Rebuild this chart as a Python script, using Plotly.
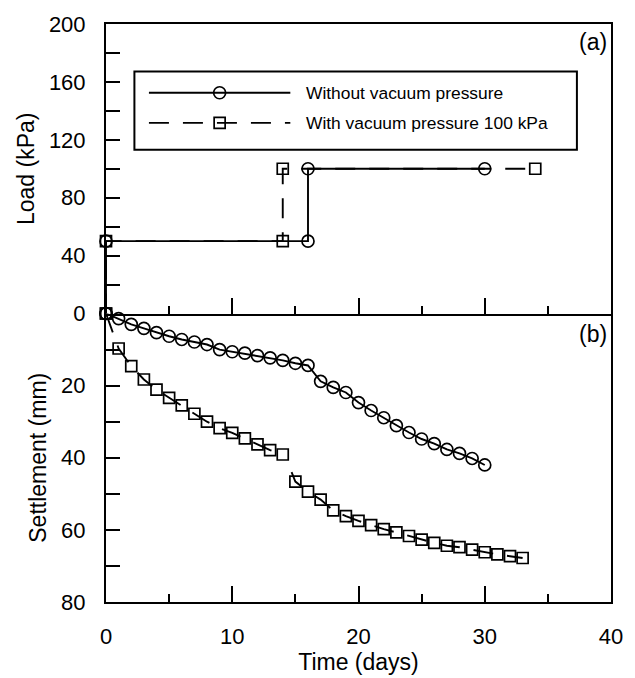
import plotly.graph_objects as go

# ---------------- data ----------------
# (a) load history
load_t_without = [0, 0, 16, 16, 30]
load_without = [0, 50, 50, 100, 100]
load_t_with = [0, 0, 14, 14, 34]
load_with = [0, 50, 50, 100, 100]

# (b) settlement
days_without = list(range(0, 31))
settle_without = [0, 1.4, 3.0, 4.1, 5.3, 6.3, 7.2, 7.9, 8.6, 10.0, 10.6,
                  11.0, 11.7, 12.3, 13.0, 13.8, 14.4, 18.8, 20.5, 21.9, 24.7,
                  26.9, 28.9, 31.1, 33.0, 34.8, 36.1, 37.7, 38.8, 40.2, 42.0]

days_with = list(range(0, 34))
settle_with = [0, 9.7, 14.6, 18.3, 21.1, 23.4, 25.5, 27.8, 30.0, 31.8, 33.1,
               34.6, 36.3, 37.9, 39.1, 46.6, 49.4, 51.6, 54.6, 56.2, 57.5,
               58.7, 59.8, 60.7, 61.7, 62.7, 63.6, 64.4, 64.8, 65.5, 66.2,
               66.8, 67.3, 67.8]
# line lead-in after the second load stage (no marker)
reload_lead_t = 14.7
reload_lead_s = 44.0
reload_index = 15

series_names = ["Without vacuum pressure", "With vacuum pressure 100 kPa"]
x_ticks = [0, 10, 20, 30, 40]
load_ticks = [0, 40, 80, 120, 160, 200]
settle_ticks = [20, 40, 60, 80]

# ---------------- styling ----------------
FONT = "Liberation Sans, Arial, sans-serif"
BLACK = "black"
LW = 1.9
DASH = "20px,14px"
MS_C = 12
MS_S = 11

fig = go.Figure()

circ = dict(symbol="circle-open", size=MS_C, color=BLACK, line=dict(width=1.7, color=BLACK))
sq = dict(symbol="square-open", size=MS_S, color=BLACK, line=dict(width=1.7, color=BLACK))

# top panel
fig.add_trace(go.Scatter(x=load_t_with, y=load_with, mode="lines+markers",
                         line=dict(color=BLACK, width=LW, dash=DASH), marker=sq,
                         cliponaxis=False, showlegend=False, xaxis="x", yaxis="y"))
fig.add_trace(go.Scatter(x=load_t_without, y=load_without, mode="lines+markers",
                         line=dict(color=BLACK, width=LW), marker=circ,
                         cliponaxis=False, showlegend=False, xaxis="x", yaxis="y"))

# bottom panel
line_x = days_with[:reload_index] + [None, reload_lead_t] + days_with[reload_index:]
line_y = settle_with[:reload_index] + [None, reload_lead_s] + settle_with[reload_index:]
fig.add_trace(go.Scatter(x=line_x, y=line_y, mode="lines", connectgaps=False,
                         line=dict(color=BLACK, width=LW, dash=DASH),
                         cliponaxis=False, showlegend=False, xaxis="x2", yaxis="y2"))
fig.add_trace(go.Scatter(x=days_with, y=settle_with, mode="markers", marker=sq,
                         cliponaxis=False, showlegend=False, xaxis="x2", yaxis="y2"))
fig.add_trace(go.Scatter(x=days_without, y=settle_without, mode="lines+markers",
                         line=dict(color=BLACK, width=LW), marker=circ,
                         cliponaxis=False, showlegend=False, xaxis="x2", yaxis="y2"))

SPLIT = 0.4991
TICKF = dict(family=FONT, size=22, color=BLACK)
TITLEF = dict(family=FONT, size=23, color=BLACK)
YTL = 14

def x_axis(mirror):
    return dict(range=[0, 40], tickvals=x_ticks, ticks="inside", ticklen=16, tickwidth=2,
                tickcolor=BLACK, showline=True, linewidth=2, linecolor=BLACK, mirror=mirror,
                showgrid=False, zeroline=False,
                minor=dict(dtick=5, tick0=0, ticks="inside", ticklen=8, tickwidth=2,
                           tickcolor=BLACK, showgrid=False))

fig.update_layout(
    width=635, height=678,
    margin=dict(l=106, r=16, t=18, b=73),
    paper_bgcolor="white", plot_bgcolor="white",
    font=dict(family=FONT, color=BLACK),
    xaxis=dict(domain=[0, 1], anchor="y", showticklabels=False, **x_axis(True)),
    xaxis2=dict(domain=[0, 1], anchor="y2", showticklabels=True, tickfont=TICKF,
                ticklabelstandoff=14,
                title=dict(text="Time (days)", font=TITLEF, standoff=0), **x_axis(False)),
    yaxis=dict(domain=[SPLIT, 1], anchor="x", range=[0, 200], tickvals=load_ticks,
               ticks="inside", ticklen=YTL, tickwidth=2, tickcolor=BLACK,
               showline=True, linewidth=2, linecolor=BLACK, mirror=True,
               showgrid=False, zeroline=False, tickfont=TICKF, ticklabelstandoff=14,
               minor=dict(tickmode="array", tickvals=[20, 60, 100, 140, 180], ticks="inside",
                          ticklen=YTL, tickwidth=2, tickcolor=BLACK, showgrid=False),
               title=dict(text="Load (kPa)", font=TITLEF, standoff=8)),
    yaxis2=dict(domain=[0, SPLIT], anchor="x2", range=[80, 0], tickvals=settle_ticks,
                ticks="inside", ticklen=YTL, tickwidth=2, tickcolor=BLACK,
                showline=True, linewidth=2, linecolor=BLACK, mirror=True,
                showgrid=False, zeroline=False, tickfont=TICKF, ticklabelstandoff=14,
                minor=dict(tickmode="array", tickvals=[10, 30, 50, 70], ticks="inside",
                           ticklen=YTL, tickwidth=2, tickcolor=BLACK, showgrid=False),
                title=dict(text="Settlement (mm)", font=TITLEF, standoff=8)),
)

# panel labels
fig.add_annotation(text="(a)", xref="paper", yref="paper", x=0.997, y=0.968,
                   xanchor="right", yanchor="middle", showarrow=False,
                   font=dict(family=FONT, size=23, color=BLACK))
fig.add_annotation(text="(b)", xref="paper", yref="paper", x=0.997, y=0.463,
                   xanchor="right", yanchor="middle", showarrow=False,
                   font=dict(family=FONT, size=23, color=BLACK))

# custom legend (in top-panel coordinates)
box = dict(x0=2.25, x1=37.3, y0=113.1, y1=167.2)
rows_y = [152.5, 131.7]
fig.add_shape(type="rect", xref="x", yref="y", line=dict(color=BLACK, width=2),
              fillcolor="white", layer="above", **box)
for i, (ry, name) in enumerate(zip(rows_y, series_names)):
    fig.add_shape(type="line", xref="x", yref="y", x0=3.4, x1=14.6, y0=ry, y1=ry,
                  line=dict(color=BLACK, width=LW, dash=("solid" if i == 0 else DASH)),
                  layer="above")
    half = MS_C / 2 if i == 0 else MS_S / 2
    fig.add_shape(type=("circle" if i == 0 else "rect"), xref="x", yref="y",
                  xsizemode="pixel", ysizemode="pixel", xanchor=9.0, yanchor=ry,
                  x0=-half, x1=half, y0=-half, y1=half,
                  line=dict(color=BLACK, width=1.7), fillcolor="rgba(0,0,0,0)",
                  layer="above")
    fig.add_annotation(text=name, xref="x", yref="y", x=15.7, y=ry, xanchor="left",
                       yanchor="middle", showarrow=False,
                       font=dict(family=FONT, size=17.4, color=BLACK))

fig.write_html("out.html")
